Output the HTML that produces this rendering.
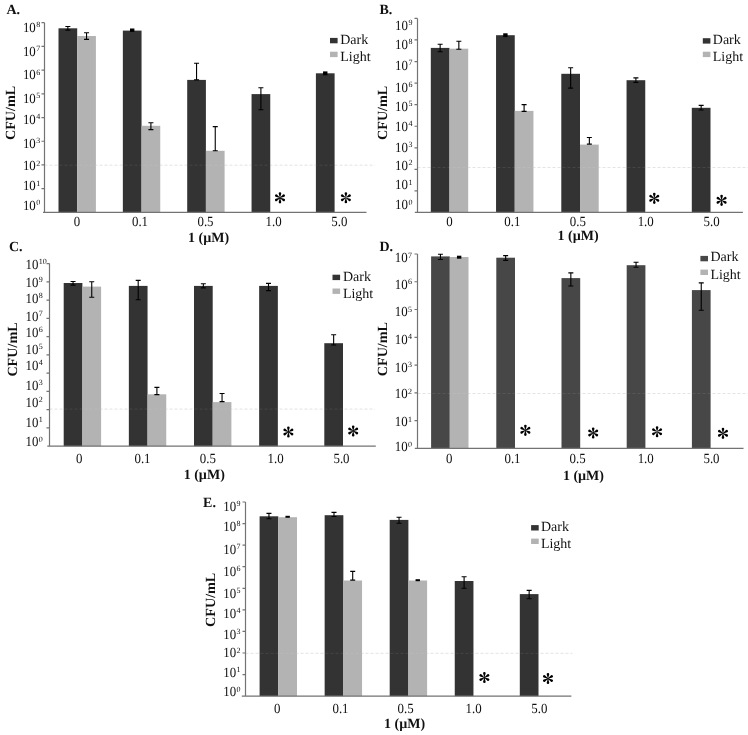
<!DOCTYPE html><html><head><meta charset="utf-8"><style>html,body{margin:0;padding:0;background:#fff;width:748px;height:735px;overflow:hidden}svg{display:block}#w{will-change:transform}text{font-family:"Liberation Serif",serif;fill:#111111;text-rendering:geometricPrecision}.b{font-weight:bold}</style></head><body>
<div id="w"><svg width="748" height="735" viewBox="0 0 748 735">
<rect width="748" height="735" fill="#fff"/>
<defs><path id="ast" d="M-0.12 -0L-1.3 -4.25A1.3 1.3 0 1 1 1.3 -4.25L0.12 0ZM-0.06 -0.1L3.03 -3.25A1.3 1.3 0 1 1 4.33 -1L0.06 0.1ZM0.06 -0.1L4.33 1A1.3 1.3 0 1 1 3.03 3.25L-0.06 0.1ZM0.12 -0L1.3 4.25A1.3 1.3 0 1 1 -1.3 4.25L-0.12 0ZM0.06 0.1L-3.03 3.25A1.3 1.3 0 1 1 -4.33 1L-0.06 -0.1ZM-0.06 0.1L-4.33 -1A1.3 1.3 0 1 1 -3.03 -3.25L0.06 -0.1Z"/></defs>
<g><line x1="44.5" y1="165.2" x2="375" y2="165.2" stroke="#e2e2e2" stroke-width="1" stroke-dasharray="3 2"/><rect x="58.5" y="28.3" width="18.7" height="184.1" fill="#333333"/><rect x="77.2" y="36" width="18.7" height="176.4" fill="#b3b3b3"/><rect x="122.85" y="30.6" width="18.7" height="181.8" fill="#333333"/><rect x="141.55" y="125.8" width="18.7" height="86.6" fill="#b3b3b3"/><rect x="187.2" y="79.9" width="18.7" height="132.5" fill="#333333"/><rect x="205.9" y="150.8" width="18.7" height="61.6" fill="#b3b3b3"/><rect x="251.55" y="94.1" width="18.7" height="118.3" fill="#333333"/><rect x="315.9" y="73.3" width="18.7" height="139.1" fill="#333333"/><line x1="44.5" y1="165.2" x2="375" y2="165.2" stroke="#fff" stroke-opacity="0.09" stroke-width="1" stroke-dasharray="3 2"/><path d="M67.85 26.5V30.1M65.35 26.5h5M65.35 30.1h5" stroke="#000" stroke-width="1.1" fill="none"/><path d="M86.55 32.8V39.4M84.05 32.8h5M84.05 39.4h5" stroke="#000" stroke-width="1.1" fill="none"/><rect x="130" y="28.5" width="4.4" height="3.4" fill="#000"/><path d="M150.9 122.7V129.6M148.4 122.7h5M148.4 129.6h5" stroke="#000" stroke-width="1.1" fill="none"/><path d="M196.55 63.3V79.9M194.05 63.3h5M194.05 79.9h5" stroke="#000" stroke-width="1.1" fill="none"/><path d="M215.25 126.6V150.8M212.75 126.6h5M212.75 150.8h5" stroke="#000" stroke-width="1.1" fill="none"/><path d="M260.9 87.7V109.7M258.4 87.7h5M258.4 109.7h5" stroke="#000" stroke-width="1.1" fill="none"/><rect x="323.05" y="71.4" width="4.4" height="3.9" fill="#000"/><path d="M44.5 22.7V212.4M43 212.4H366.5" stroke="#737373" stroke-width="1.2" fill="none"/><path d="M41.5 22.7H44.5M41.5 46.41H44.5M41.5 70.12H44.5M41.5 93.83H44.5M41.5 117.54H44.5M41.5 141.25H44.5M41.5 164.96H44.5M41.5 188.67H44.5" stroke="#737373" stroke-width="1.2" fill="none"/><text transform="translate(22.9 31.74) scale(0.92 1)" font-size="14">10</text><text x="36.2" y="27.05" font-size="8">8</text><text transform="translate(22.9 55.94) scale(0.92 1)" font-size="14">10</text><text x="36.2" y="51.25" font-size="8">7</text><text transform="translate(22.9 79.49) scale(0.92 1)" font-size="14">10</text><text x="36.2" y="74.8" font-size="8">6</text><text transform="translate(22.9 102.64) scale(0.92 1)" font-size="14">10</text><text x="36.2" y="97.95" font-size="8">5</text><text transform="translate(22.9 123.59) scale(0.92 1)" font-size="14">10</text><text x="36.2" y="118.9" font-size="8">4</text><text transform="translate(22.9 147.79) scale(0.92 1)" font-size="14">10</text><text x="36.2" y="143.1" font-size="8">3</text><text transform="translate(22.9 170.19) scale(0.92 1)" font-size="14">10</text><text x="36.2" y="165.5" font-size="8">2</text><text transform="translate(22.9 190.19) scale(0.92 1)" font-size="14">10</text><text x="36.2" y="185.5" font-size="8">1</text><text transform="translate(22.9 209.79) scale(0.92 1)" font-size="14">10</text><text x="36.2" y="205.1" font-size="8">0</text><text transform="translate(77 225.69) scale(0.92 1)" font-size="14" text-anchor="middle">0</text><text transform="translate(140 225.69) scale(0.92 1)" font-size="14" text-anchor="middle">0.1</text><text transform="translate(205.5 225.69) scale(0.92 1)" font-size="14" text-anchor="middle">0.5</text><text transform="translate(273.6 225.69) scale(0.92 1)" font-size="14" text-anchor="middle">1.0</text><text transform="translate(339.3 225.69) scale(0.92 1)" font-size="14" text-anchor="middle">5.0</text><text class="b" x="188.1" y="241.8" font-size="14">1 (&#181;M)</text><text class="b" transform="translate(14.8 112.9) rotate(-90)" font-size="14" text-anchor="middle" textLength="54.2" lengthAdjust="spacingAndGlyphs">CFU/mL</text><text class="b" x="6.4" y="14" font-size="14">A.</text><use href="#ast" x="279.98" y="197.85" fill="#000"/><use href="#ast" x="345.88" y="197.75" fill="#000"/><rect x="330" y="37.9" width="7.6" height="5.4" fill="#333333"/><rect x="330" y="51.7" width="7.6" height="5.4" fill="#b3b3b3"/><text x="340.2" y="44" font-size="14">Dark</text><text x="340.2" y="61" font-size="14">Light</text></g>
<g><line x1="417.5" y1="167.5" x2="748" y2="167.5" stroke="#e2e2e2" stroke-width="1" stroke-dasharray="3 2"/><rect x="430.8" y="47.9" width="18.7" height="164.5" fill="#333333"/><rect x="449.5" y="48.7" width="18.7" height="163.7" fill="#b3b3b3"/><rect x="496.05" y="35.2" width="18.7" height="177.2" fill="#333333"/><rect x="514.75" y="110.9" width="18.7" height="101.5" fill="#b3b3b3"/><rect x="561.3" y="73.8" width="18.7" height="138.6" fill="#333333"/><rect x="580" y="144.6" width="18.7" height="67.8" fill="#b3b3b3"/><rect x="626.55" y="80.2" width="18.7" height="132.2" fill="#333333"/><rect x="691.8" y="107.8" width="18.7" height="104.6" fill="#333333"/><line x1="417.5" y1="167.5" x2="748" y2="167.5" stroke="#fff" stroke-opacity="0.09" stroke-width="1" stroke-dasharray="3 2"/><path d="M440.15 44.2V51.7M437.65 44.2h5M437.65 51.7h5" stroke="#000" stroke-width="1.1" fill="none"/><path d="M458.85 41.2V49.3M456.35 41.2h5M456.35 49.3h5" stroke="#000" stroke-width="1.1" fill="none"/><rect x="503.2" y="33.3" width="4.4" height="3.8" fill="#000"/><path d="M524.1 104.6V111.4M521.6 104.6h5M521.6 111.4h5" stroke="#000" stroke-width="1.1" fill="none"/><path d="M570.65 67.7V88.1M568.15 67.7h5M568.15 88.1h5" stroke="#000" stroke-width="1.1" fill="none"/><path d="M589.35 137.5V144.1M586.85 137.5h5M586.85 144.1h5" stroke="#000" stroke-width="1.1" fill="none"/><path d="M635.9 77.9V82.4M633.4 77.9h5M633.4 82.4h5" stroke="#000" stroke-width="1.1" fill="none"/><path d="M701.15 105.4V110M698.65 105.4h5M698.65 110h5" stroke="#000" stroke-width="1.1" fill="none"/><path d="M417.5 18.4V212.4M414.8 212.4H742.9" stroke="#737373" stroke-width="1.2" fill="none"/><path d="M414.5 18.4H417.5M414.5 39.97H417.5M414.5 61.54H417.5M414.5 83.11H417.5M414.5 104.68H417.5M414.5 126.25H417.5M414.5 147.82H417.5M414.5 169.39H417.5M414.5 190.96H417.5" stroke="#737373" stroke-width="1.2" fill="none"/><text transform="translate(395.1 29.64) scale(0.92 1)" font-size="14">10</text><text x="408.4" y="24.95" font-size="8">9</text><text transform="translate(395.1 48.54) scale(0.92 1)" font-size="14">10</text><text x="408.4" y="43.85" font-size="8">8</text><text transform="translate(395.1 69.89) scale(0.92 1)" font-size="14">10</text><text x="408.4" y="65.2" font-size="8">7</text><text transform="translate(395.1 91.64) scale(0.92 1)" font-size="14">10</text><text x="408.4" y="86.95" font-size="8">6</text><text transform="translate(395.1 111.04) scale(0.92 1)" font-size="14">10</text><text x="408.4" y="106.35" font-size="8">5</text><text transform="translate(395.1 130.94) scale(0.92 1)" font-size="14">10</text><text x="408.4" y="126.25" font-size="8">4</text><text transform="translate(395.1 151.79) scale(0.92 1)" font-size="14">10</text><text x="408.4" y="147.1" font-size="8">3</text><text transform="translate(395.1 170.14) scale(0.92 1)" font-size="14">10</text><text x="408.4" y="165.45" font-size="8">2</text><text transform="translate(395.1 189.49) scale(0.92 1)" font-size="14">10</text><text x="408.4" y="184.8" font-size="8">1</text><text transform="translate(395.1 209.39) scale(0.92 1)" font-size="14">10</text><text x="408.4" y="204.7" font-size="8">0</text><text transform="translate(449.5 226.39) scale(0.92 1)" font-size="14" text-anchor="middle">0</text><text transform="translate(512.3 226.39) scale(0.92 1)" font-size="14" text-anchor="middle">0.1</text><text transform="translate(577.9 226.39) scale(0.92 1)" font-size="14" text-anchor="middle">0.5</text><text transform="translate(645.7 226.39) scale(0.92 1)" font-size="14" text-anchor="middle">1.0</text><text transform="translate(711.6 226.39) scale(0.92 1)" font-size="14" text-anchor="middle">5.0</text><text class="b" x="557.5" y="240.2" font-size="14">1 (&#181;M)</text><text class="b" transform="translate(386.6 112.85) rotate(-90)" font-size="14" text-anchor="middle" textLength="54.2" lengthAdjust="spacingAndGlyphs">CFU/mL</text><text class="b" x="379.5" y="14.3" font-size="14">B.</text><use href="#ast" x="654.28" y="198.35" fill="#000"/><use href="#ast" x="721.58" y="200.35" fill="#000"/><rect x="702.8" y="38.2" width="7.6" height="5.4" fill="#333333"/><rect x="702.8" y="51.7" width="7.6" height="5.4" fill="#b3b3b3"/><text x="712.8" y="44" font-size="14">Dark</text><text x="712.8" y="61" font-size="14">Light</text></g>
<g><line x1="49.5" y1="409.1" x2="375" y2="409.1" stroke="#e2e2e2" stroke-width="1" stroke-dasharray="3 2"/><rect x="63.7" y="283" width="18.7" height="163.2" fill="#333333"/><rect x="82.4" y="286.6" width="18.7" height="159.6" fill="#b3b3b3"/><rect x="128.85" y="285.9" width="18.7" height="160.3" fill="#333333"/><rect x="147.55" y="394.3" width="18.7" height="51.9" fill="#b3b3b3"/><rect x="194" y="285.9" width="18.7" height="160.3" fill="#333333"/><rect x="212.7" y="402.1" width="18.7" height="44.1" fill="#b3b3b3"/><rect x="259.15" y="285.9" width="18.7" height="160.3" fill="#333333"/><rect x="324.3" y="343.2" width="18.7" height="103" fill="#333333"/><line x1="49.5" y1="409.1" x2="375" y2="409.1" stroke="#fff" stroke-opacity="0.09" stroke-width="1" stroke-dasharray="3 2"/><path d="M73.05 281.5V285.1M70.55 281.5h5M70.55 285.1h5" stroke="#000" stroke-width="1.1" fill="none"/><path d="M91.75 281.7V297.3M89.25 281.7h5M89.25 297.3h5" stroke="#000" stroke-width="1.1" fill="none"/><path d="M138.2 280.4V299.7M135.7 280.4h5M135.7 299.7h5" stroke="#000" stroke-width="1.1" fill="none"/><path d="M156.9 387.4V394.6M154.4 387.4h5M154.4 394.6h5" stroke="#000" stroke-width="1.1" fill="none"/><path d="M203.35 283.8V287.9M200.85 283.8h5M200.85 287.9h5" stroke="#000" stroke-width="1.1" fill="none"/><path d="M222.05 393.5V401.6M219.55 393.5h5M219.55 401.6h5" stroke="#000" stroke-width="1.1" fill="none"/><path d="M268.5 283.4V290.6M266 283.4h5M266 290.6h5" stroke="#000" stroke-width="1.1" fill="none"/><path d="M333.65 334.8V345M331.15 334.8h5M331.15 345h5" stroke="#000" stroke-width="1.1" fill="none"/><path d="M49.5 263.6V446.2M47.3 446.2H375.8" stroke="#737373" stroke-width="1.2" fill="none"/><path d="M46.5 263.6H49.5M46.5 281.86H49.5M46.5 300.12H49.5M46.5 318.38H49.5M46.5 336.64H49.5M46.5 354.9H49.5M46.5 373.16H49.5M46.5 391.42H49.5M46.5 409.68H49.5M46.5 427.94H49.5" stroke="#737373" stroke-width="1.2" fill="none"/><text transform="translate(25.5 268.54) scale(0.92 1)" font-size="14">10</text><text x="38.8" y="263.85" font-size="8">10</text><text transform="translate(25.5 286.64) scale(0.92 1)" font-size="14">10</text><text x="38.8" y="281.95" font-size="8">9</text><text transform="translate(25.5 302.99) scale(0.92 1)" font-size="14">10</text><text x="38.8" y="298.3" font-size="8">8</text><text transform="translate(25.5 321.04) scale(0.92 1)" font-size="14">10</text><text x="38.8" y="316.35" font-size="8">7</text><text transform="translate(25.5 337.04) scale(0.92 1)" font-size="14">10</text><text x="38.8" y="332.35" font-size="8">6</text><text transform="translate(25.5 353.59) scale(0.92 1)" font-size="14">10</text><text x="38.8" y="348.9" font-size="8">5</text><text transform="translate(25.5 369.79) scale(0.92 1)" font-size="14">10</text><text x="38.8" y="365.1" font-size="8">4</text><text transform="translate(25.5 389.89) scale(0.92 1)" font-size="14">10</text><text x="38.8" y="385.2" font-size="8">3</text><text transform="translate(25.5 406.89) scale(0.92 1)" font-size="14">10</text><text x="38.8" y="402.2" font-size="8">2</text><text transform="translate(25.5 426.59) scale(0.92 1)" font-size="14">10</text><text x="38.8" y="421.9" font-size="8">1</text><text transform="translate(25.5 446.29) scale(0.92 1)" font-size="14">10</text><text x="38.8" y="441.6" font-size="8">0</text><text transform="translate(79.3 462.99) scale(0.92 1)" font-size="14" text-anchor="middle">0</text><text transform="translate(142.5 462.99) scale(0.92 1)" font-size="14" text-anchor="middle">0.1</text><text transform="translate(207.8 462.99) scale(0.92 1)" font-size="14" text-anchor="middle">0.5</text><text transform="translate(275.6 462.99) scale(0.92 1)" font-size="14" text-anchor="middle">1.0</text><text transform="translate(341.5 462.99) scale(0.92 1)" font-size="14" text-anchor="middle">5.0</text><text class="b" x="183.7" y="478.9" font-size="14">1 (&#181;M)</text><text class="b" transform="translate(16.5 349.5) rotate(-90)" font-size="14" text-anchor="middle" textLength="54.2" lengthAdjust="spacingAndGlyphs">CFU/mL</text><text class="b" x="9" y="251" font-size="14">C.</text><use href="#ast" x="288.38" y="431.95" fill="#000"/><use href="#ast" x="353.18" y="430.95" fill="#000"/><rect x="332.5" y="274.7" width="7.6" height="5.4" fill="#333333"/><rect x="332.5" y="288.5" width="7.6" height="5.4" fill="#b3b3b3"/><text x="342.9" y="280.8" font-size="14">Dark</text><text x="342.9" y="298.1" font-size="14">Light</text></g>
<g><line x1="417.5" y1="393.5" x2="748" y2="393.5" stroke="#e2e2e2" stroke-width="1" stroke-dasharray="3 2"/><rect x="431.1" y="256.4" width="18.7" height="191.9" fill="#474747"/><rect x="449.8" y="257" width="18.7" height="191.3" fill="#b3b3b3"/><rect x="496.3" y="257.7" width="18.7" height="190.6" fill="#474747"/><rect x="561.5" y="278.1" width="18.7" height="170.2" fill="#474747"/><rect x="626.7" y="265.2" width="18.7" height="183.1" fill="#474747"/><rect x="691.9" y="290.1" width="18.7" height="158.2" fill="#474747"/><line x1="417.5" y1="393.5" x2="748" y2="393.5" stroke="#fff" stroke-opacity="0.09" stroke-width="1" stroke-dasharray="3 2"/><path d="M440.45 254.3V259.5M437.95 254.3h5M437.95 259.5h5" stroke="#000" stroke-width="1.1" fill="none"/><rect x="456.95" y="255.7" width="4.4" height="3" fill="#000"/><path d="M505.65 255.6V260.4M503.15 255.6h5M503.15 260.4h5" stroke="#000" stroke-width="1.1" fill="none"/><path d="M570.85 272.9V286M568.35 272.9h5M568.35 286h5" stroke="#000" stroke-width="1.1" fill="none"/><path d="M636.05 262.2V267.2M633.55 262.2h5M633.55 267.2h5" stroke="#000" stroke-width="1.1" fill="none"/><path d="M701.25 282.9V310.3M698.75 282.9h5M698.75 310.3h5" stroke="#000" stroke-width="1.1" fill="none"/><path d="M417.5 254V448.3M414.8 448.3H743.5" stroke="#737373" stroke-width="1.2" fill="none"/><path d="M414.5 254H417.5M414.5 281.76H417.5M414.5 309.52H417.5M414.5 337.28H417.5M414.5 365.04H417.5M414.5 392.8H417.5M414.5 420.56H417.5" stroke="#737373" stroke-width="1.2" fill="none"/><text transform="translate(394.7 262.24) scale(0.92 1)" font-size="14">10</text><text x="408" y="257.55" font-size="8">7</text><text transform="translate(394.7 288.84) scale(0.92 1)" font-size="14">10</text><text x="408" y="284.15" font-size="8">6</text><text transform="translate(394.7 316.34) scale(0.92 1)" font-size="14">10</text><text x="408" y="311.65" font-size="8">5</text><text transform="translate(394.7 344.04) scale(0.92 1)" font-size="14">10</text><text x="408" y="339.35" font-size="8">4</text><text transform="translate(394.7 371.69) scale(0.92 1)" font-size="14">10</text><text x="408" y="367" font-size="8">3</text><text transform="translate(394.7 398.44) scale(0.92 1)" font-size="14">10</text><text x="408" y="393.75" font-size="8">2</text><text transform="translate(394.7 426.49) scale(0.92 1)" font-size="14">10</text><text x="408" y="421.8" font-size="8">1</text><text transform="translate(394.7 451.19) scale(0.92 1)" font-size="14">10</text><text x="408" y="446.5" font-size="8">0</text><text transform="translate(449.2 462.89) scale(0.92 1)" font-size="14" text-anchor="middle">0</text><text transform="translate(512.5 462.89) scale(0.92 1)" font-size="14" text-anchor="middle">0.1</text><text transform="translate(577.6 462.89) scale(0.92 1)" font-size="14" text-anchor="middle">0.5</text><text transform="translate(645.7 462.89) scale(0.92 1)" font-size="14" text-anchor="middle">1.0</text><text transform="translate(711.5 462.89) scale(0.92 1)" font-size="14" text-anchor="middle">5.0</text><text class="b" x="562.9" y="479.9" font-size="14">1 (&#181;M)</text><text class="b" transform="translate(387.1 349.1) rotate(-90)" font-size="14" text-anchor="middle" textLength="54.2" lengthAdjust="spacingAndGlyphs">CFU/mL</text><text class="b" x="379.4" y="250.6" font-size="14">D.</text><use href="#ast" x="525.38" y="430.35" fill="#000"/><use href="#ast" x="593.18" y="432.95" fill="#000"/><use href="#ast" x="657.08" y="431.75" fill="#000"/><use href="#ast" x="722.98" y="433.35" fill="#000"/><rect x="700.4" y="255.9" width="7.6" height="5.4" fill="#474747"/><rect x="700.4" y="269.6" width="7.6" height="5.4" fill="#b3b3b3"/><text x="710.4" y="261.3" font-size="14">Dark</text><text x="710.4" y="278.7" font-size="14">Light</text></g>
<g><line x1="245.5" y1="653.3" x2="572.4" y2="653.3" stroke="#e2e2e2" stroke-width="1" stroke-dasharray="3 2"/><rect x="259.6" y="516.3" width="18.7" height="179.8" fill="#333333"/><rect x="278.3" y="517.2" width="18.7" height="178.9" fill="#b3b3b3"/><rect x="324.65" y="515.2" width="18.7" height="180.9" fill="#333333"/><rect x="343.35" y="580.5" width="18.7" height="115.6" fill="#b3b3b3"/><rect x="389.7" y="519.9" width="18.7" height="176.2" fill="#333333"/><rect x="408.4" y="580.5" width="18.7" height="115.6" fill="#b3b3b3"/><rect x="454.75" y="581" width="18.7" height="115.1" fill="#333333"/><rect x="519.8" y="594.1" width="18.7" height="102" fill="#333333"/><line x1="245.5" y1="653.3" x2="572.4" y2="653.3" stroke="#fff" stroke-opacity="0.09" stroke-width="1" stroke-dasharray="3 2"/><path d="M268.95 513.4V518.8M266.45 513.4h5M266.45 518.8h5" stroke="#000" stroke-width="1.1" fill="none"/><rect x="285.45" y="515.8" width="4.4" height="2" fill="#000"/><path d="M334 512.4V516.5M331.5 512.4h5M331.5 516.5h5" stroke="#000" stroke-width="1.1" fill="none"/><path d="M352.7 571.4V580.1M350.2 571.4h5M350.2 580.1h5" stroke="#000" stroke-width="1.1" fill="none"/><path d="M399.05 517.2V523.3M396.55 517.2h5M396.55 523.3h5" stroke="#000" stroke-width="1.1" fill="none"/><rect x="415.55" y="579.2" width="4.4" height="2" fill="#000"/><path d="M464.1 576.7V588.3M461.6 576.7h5M461.6 588.3h5" stroke="#000" stroke-width="1.1" fill="none"/><path d="M529.15 590.4V598.8M526.65 590.4h5M526.65 598.8h5" stroke="#000" stroke-width="1.1" fill="none"/><path d="M245.5 502V696.1M241.8 696.1H571.4" stroke="#737373" stroke-width="1.2" fill="none"/><path d="M242.5 502H245.5M242.5 523.57H245.5M242.5 545.14H245.5M242.5 566.71H245.5M242.5 588.28H245.5M242.5 609.85H245.5M242.5 631.42H245.5M242.5 652.99H245.5M242.5 674.56H245.5" stroke="#737373" stroke-width="1.2" fill="none"/><text transform="translate(223.2 511.14) scale(0.92 1)" font-size="14">10</text><text x="236.5" y="506.45" font-size="8">9</text><text transform="translate(223.2 531.04) scale(0.92 1)" font-size="14">10</text><text x="236.5" y="526.35" font-size="8">8</text><text transform="translate(223.2 553.64) scale(0.92 1)" font-size="14">10</text><text x="236.5" y="548.95" font-size="8">7</text><text transform="translate(223.2 576.14) scale(0.92 1)" font-size="14">10</text><text x="236.5" y="571.45" font-size="8">6</text><text transform="translate(223.2 597.84) scale(0.92 1)" font-size="14">10</text><text x="236.5" y="593.15" font-size="8">5</text><text transform="translate(223.2 617.94) scale(0.92 1)" font-size="14">10</text><text x="236.5" y="613.25" font-size="8">4</text><text transform="translate(223.2 638.89) scale(0.92 1)" font-size="14">10</text><text x="236.5" y="634.2" font-size="8">3</text><text transform="translate(223.2 657.19) scale(0.92 1)" font-size="14">10</text><text x="236.5" y="652.5" font-size="8">2</text><text transform="translate(223.2 676.59) scale(0.92 1)" font-size="14">10</text><text x="236.5" y="671.9" font-size="8">1</text><text transform="translate(223.2 696.49) scale(0.92 1)" font-size="14">10</text><text x="236.5" y="691.8" font-size="8">0</text><text transform="translate(277.2 713.09) scale(0.92 1)" font-size="14" text-anchor="middle">0</text><text transform="translate(340.5 713.09) scale(0.92 1)" font-size="14" text-anchor="middle">0.1</text><text transform="translate(405.6 713.09) scale(0.92 1)" font-size="14" text-anchor="middle">0.5</text><text transform="translate(473.6 713.09) scale(0.92 1)" font-size="14" text-anchor="middle">1.0</text><text transform="translate(539.3 713.09) scale(0.92 1)" font-size="14" text-anchor="middle">5.0</text><text class="b" x="384" y="728.2" font-size="14">1 (&#181;M)</text><text class="b" transform="translate(214.8 599.8) rotate(-90)" font-size="14" text-anchor="middle" textLength="54.2" lengthAdjust="spacingAndGlyphs">CFU/mL</text><text class="b" x="203.1" y="507" font-size="14">E.</text><use href="#ast" x="484.38" y="677.55" fill="#000"/><use href="#ast" x="547.98" y="678.55" fill="#000"/><rect x="531.1" y="525.1" width="7.6" height="5.4" fill="#333333"/><rect x="531.1" y="538.6" width="7.6" height="5.4" fill="#b3b3b3"/><text x="540.9" y="531.1" font-size="14">Dark</text><text x="540.9" y="547.9" font-size="14">Light</text></g>
</svg></div></body></html>
